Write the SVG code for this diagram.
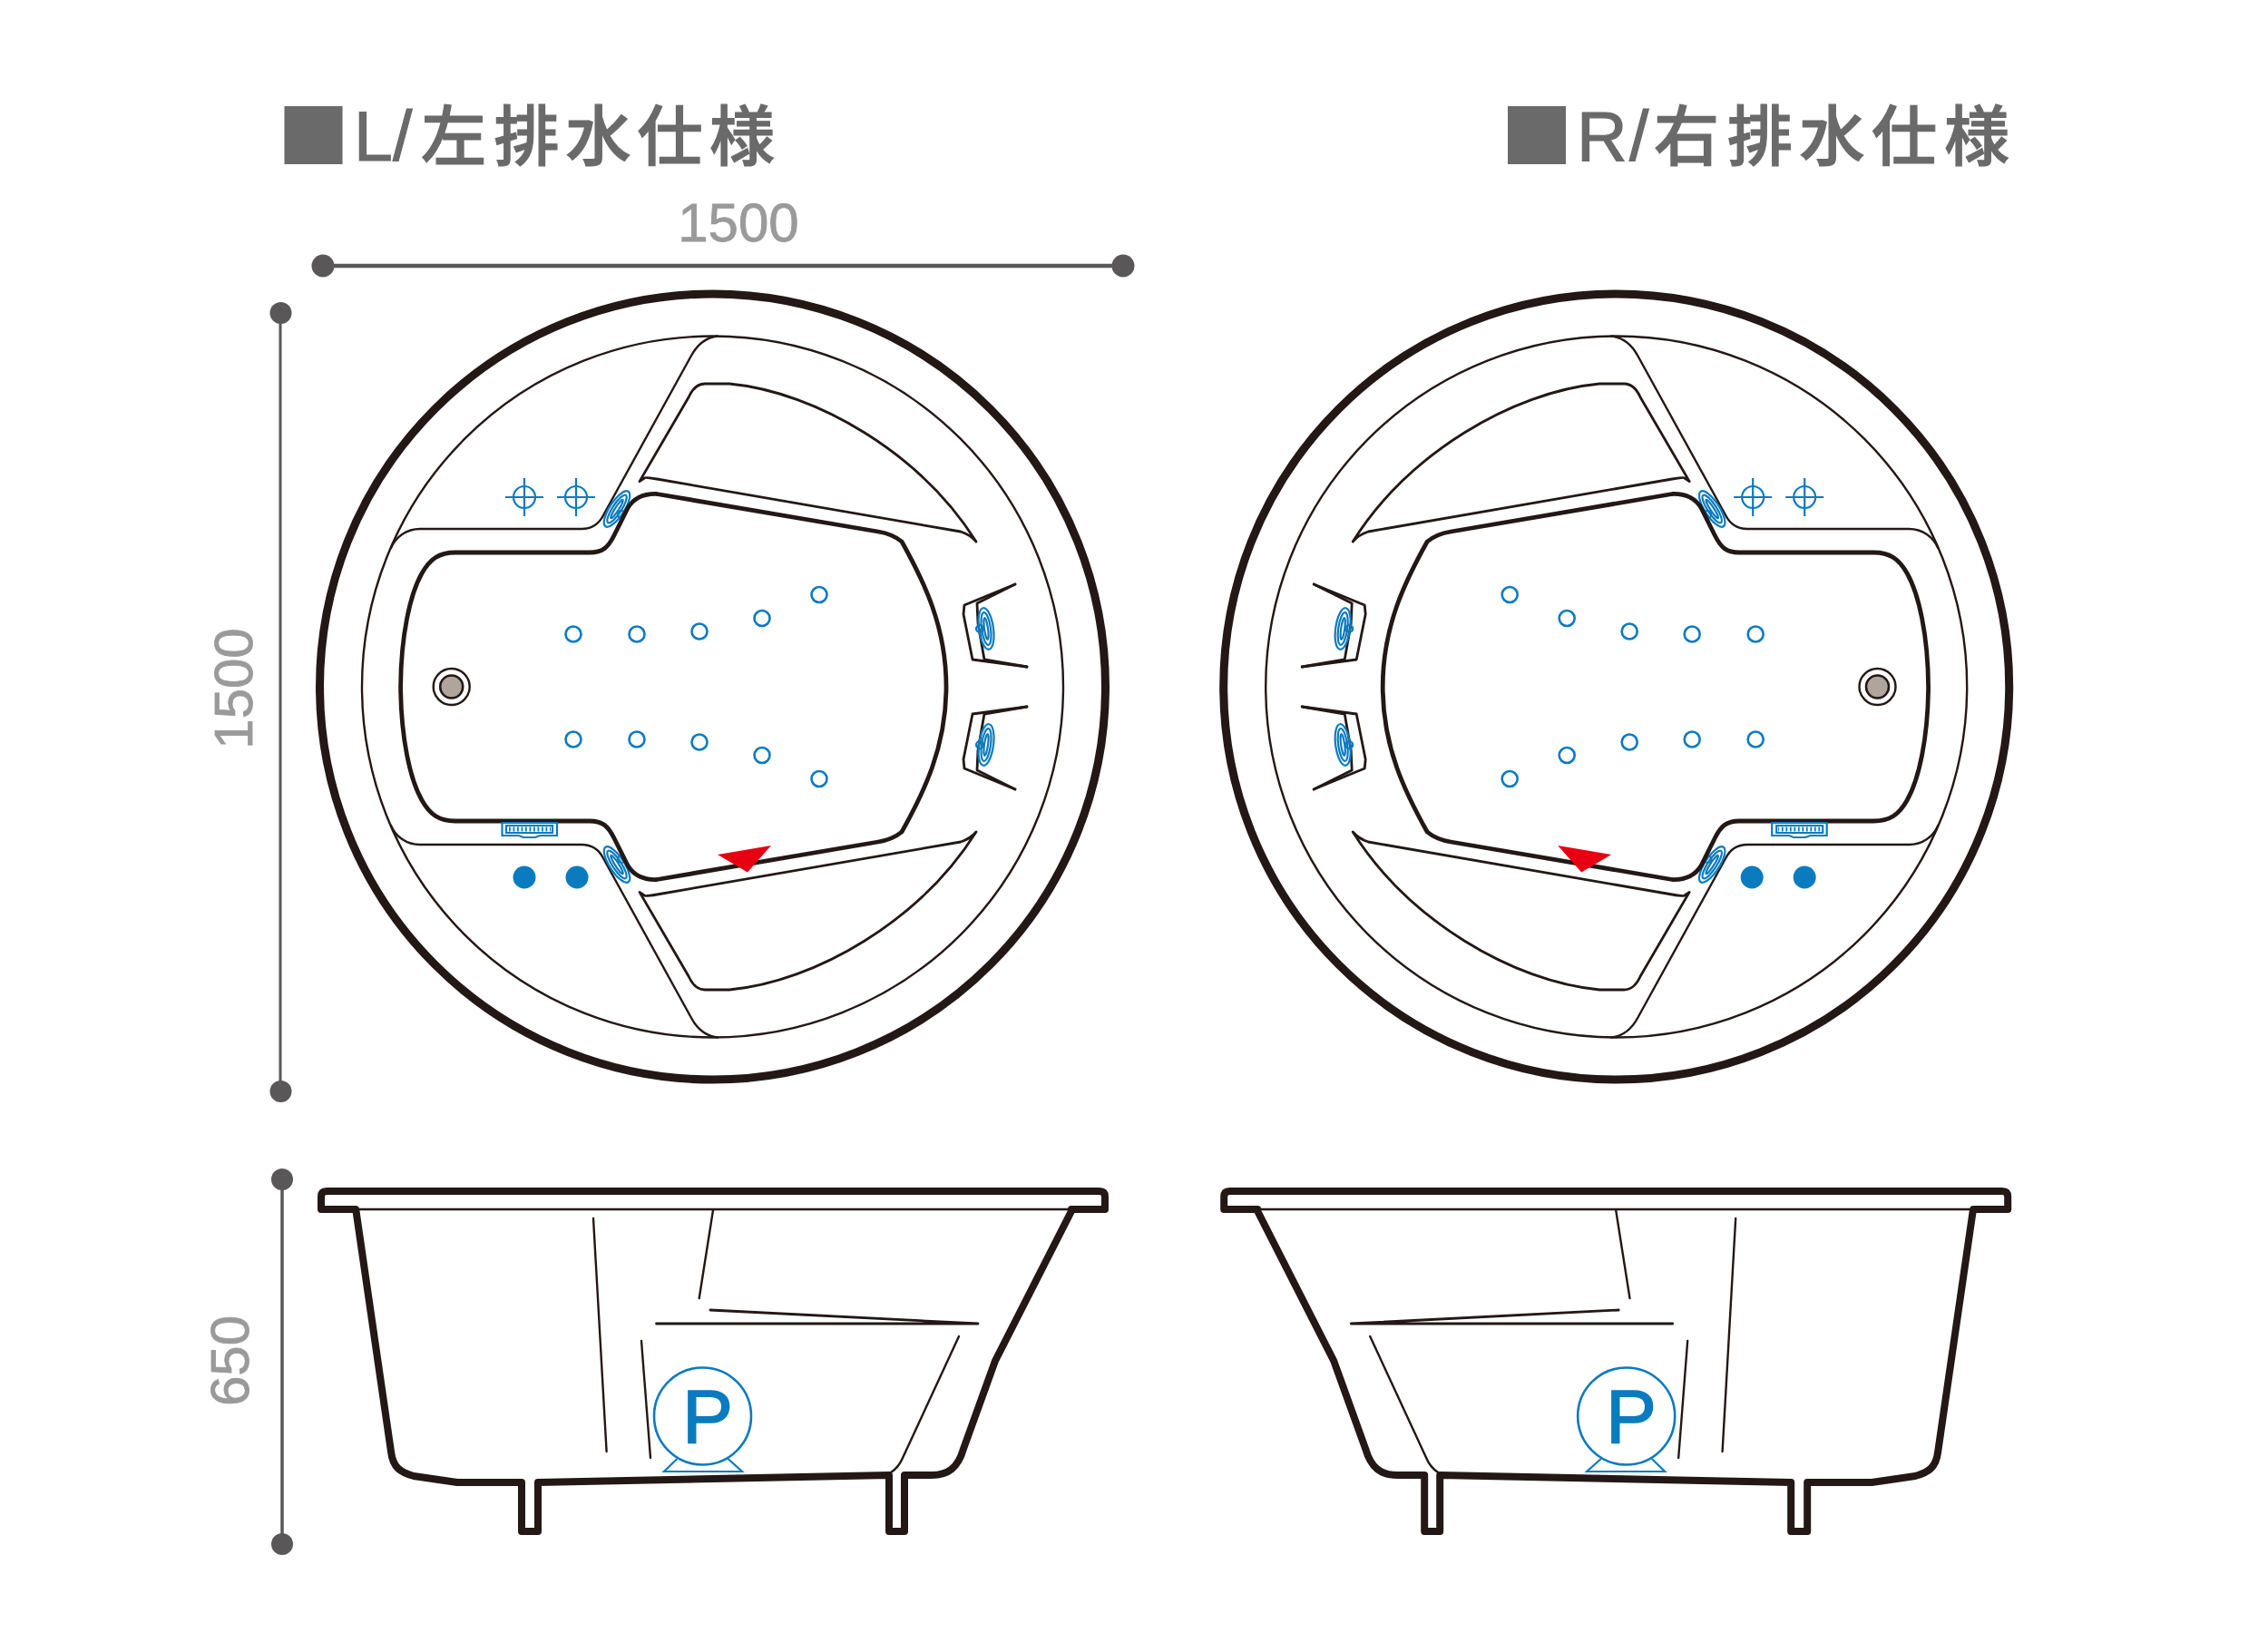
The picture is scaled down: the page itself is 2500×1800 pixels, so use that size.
<svg xmlns="http://www.w3.org/2000/svg" xmlns:xlink="http://www.w3.org/1999/xlink" width="2500" height="1800" viewBox="0 0 2500 1800">
<style>
.bg{fill:#fff}
.k{fill:none;stroke:#231815;stroke-linejoin:round;stroke-linecap:round}
.t2{stroke-width:2.4}
.t3{stroke-width:2.8}
.b{fill:none;stroke:#0b7bbf;stroke-width:2.2}
.j{fill:#fff;stroke:#0b7bbf;stroke-width:2.6}
.dim{stroke:#595757;fill:none}
.dot{fill:#595757}
.title{font-family:"Liberation Sans","Noto Sans CJK JP",sans-serif;font-size:77px;fill:#6a6a6a;stroke:#6a6a6a;stroke-width:1.2}
.cjk{font-family:"Noto Sans CJK JP","Liberation Sans",sans-serif;font-size:72px;font-weight:500}
.sq{font-family:"Noto Sans CJK JP",sans-serif;font-size:80px;stroke:none}
.num{font-family:"Liberation Sans",sans-serif;font-size:60px;fill:#9a9a9a;stroke:#9a9a9a;stroke-width:.8}
.p{font-family:"Liberation Sans",sans-serif;font-size:84px;fill:#0b7bbf;stroke:#0b7bbf;stroke-width:1.5}
</style>
<defs>
<g id="jet">
<ellipse rx="8" ry="23"/><ellipse rx="5" ry="18"/><ellipse rx="2" ry="12"/>
</g>
<g id="half">
<path class="k t2" d="M431,604C436,592 448,583 463,583L641,583C652,583 660,578 665,568L762,392C768,381 778,372 791,370.5"/>
<path class="k t3" d="M705,530.6L759,438C763,429 768,423 777,423L804,423C900,432 1015,500 1076,597C1070,590 1065,588 1059,586L724,528C718,527 712,526 711,526.6Z"/>
<path class="k t3" d="M1119,644L1063,667L1062,677L1072,727L1132,735"/>
<path class="k t3" d="M1119,644L1077,665L1078,687L1085,727L1132,735"/>
<use href="#jet" class="b" transform="translate(1087,693) rotate(-8)"/>
<circle class="b" cx="1080" cy="693" r="4"/>
<use href="#jet" class="b" transform="translate(680,561) rotate(33)"/>
<circle class="b" cx="685" cy="567" r="4"/>
</g>
<g id="plan">
<circle class="k" cx="785.5" cy="757" r="433" stroke-width="9"/>
<circle class="k t2" cx="785.5" cy="757" r="386.5"/>
<use href="#half"/>
<use href="#half" transform="translate(0,1514) scale(1,-1)"/>
<path class="k" stroke-width="4.8" d="M441.6,757C442,700 452,655 465,632C474,616 484,609 502,609L650,609C664,609 670,604 677,590L692,560C698,550 708,544 724,544.5L968,586C980,588 988,592 994,597C1018,640 1043,690 1043,757C1043,824 1018,874 994,917C988,922 980,926 968,928L724,969.5C708,970 698,964 692,954L677,924C670,910 664,905 650,905L502,905C484,905 474,898 465,882C452,859 442,814 441.6,757Z"/>
<g class="j">
<circle cx="632" cy="699" r="8.5"/><circle cx="702" cy="699" r="8.5"/><circle cx="771" cy="696" r="8.5"/><circle cx="840" cy="681.5" r="8.5"/><circle cx="903" cy="655.5" r="8.5"/>
<circle cx="632" cy="815" r="8.5"/><circle cx="702" cy="815" r="8.5"/><circle cx="771" cy="818" r="8.5"/><circle cx="840" cy="832.5" r="8.5"/><circle cx="903" cy="858.5" r="8.5"/>
</g>
<circle class="k t2" cx="497.7" cy="757" r="20"/>
<circle cx="497.7" cy="757" r="12.5" fill="#b0a59d" stroke="#231815" stroke-width="2.6"/>
<g class="b">
<circle cx="578" cy="548" r="12"/><path d="M557,548H599M578,527V569"/>
<circle cx="635" cy="548" r="12"/><path d="M614,548H656M635,527V569"/>
<path d="M553.5,907H614V921H595L590,923H577L572,921H553.5Z"/>
<path d="M558,910H609V918H558Z"/>
<path d="M561,914H607" stroke-width="5" stroke-dasharray="1.8 2.7"/>
</g>
<circle cx="578" cy="967" r="12.5" fill="#0b7bbf"/>
<circle cx="636" cy="967" r="12.5" fill="#0b7bbf"/>
<path d="M791,942L850,932L824,961.5Z" fill="#e60012"/>
</g>
<g id="elev">
<path class="k" stroke-width="8" d="M392,1333L354,1333L354,1319Q354,1313 360,1313L1212,1313Q1218,1313 1218,1319L1218,1333L1181,1333"/>
<path class="k t2" d="M392,1333H1181"/>
<path class="k" stroke-width="8" d="M392.5,1335L431,1600C433,1618 442,1623 456,1627L504,1634L575,1634L575,1688L593,1688L593,1634L980,1626L980,1688L997,1688L997,1626L1027,1626C1045,1626 1056,1618 1062,1597L1097,1500L1181,1335"/>
<path class="k t2" d="M654,1343L668.6,1600M786,1334L770.7,1431M707,1478L717,1607"/>
<path class="k t2" d="M1057,1473L995,1607Q991,1617 982,1623"/>
<path class="k t3" d="M723.5,1459H1078L783,1444"/>
<circle cx="774.5" cy="1561" r="53.5" fill="none" stroke="#0b7bbf" stroke-width="2.6"/>
<path class="b" d="M746.4,1608L732,1622H818L802.5,1608"/>
</g>
</defs>
<rect class="bg" width="2500" height="1800"/>
<g id="title-left"><text class="title"><tspan class="sq" x="305.500" y="179">■</tspan><tspan x="390" y="177">L</tspan><tspan x="433">/</tspan><tspan class="cjk" x="464" y="176">左</tspan><tspan class="cjk" x="544.5" y="176">排</tspan><tspan class="cjk" x="623.5" y="176">水</tspan><tspan class="cjk" x="702.5" y="176">仕</tspan><tspan class="cjk" x="782" y="176">様</tspan></text></g>
<g id="title-right"><text class="title"><tspan class="sq" x="1654" y="179">■</tspan><tspan x="1738" y="177">R</tspan><tspan x="1796">/</tspan><tspan class="cjk" x="1823" y="176">右</tspan><tspan class="cjk" x="1904" y="176">排</tspan><tspan class="cjk" x="1983.5" y="176">水</tspan><tspan class="cjk" x="2063" y="176">仕</tspan><tspan class="cjk" x="2143" y="176">様</tspan></text></g>
<g id="dimensions">
<path class="dim" stroke-width="4.6" d="M356,293H1238"/>
<circle class="dot" cx="356" cy="293" r="12.5"/><circle class="dot" cx="1238" cy="293" r="12.5"/>
<path class="dim" stroke-width="3" d="M309,345V1203"/>
<circle class="dot" cx="309.500" cy="345" r="12"/><circle class="dot" cx="309.500" cy="1203" r="12"/>
<path class="dim" stroke-width="3.500" d="M311,1300V1702"/>
<circle class="dot" cx="311" cy="1300" r="12"/><circle class="dot" cx="311" cy="1702" r="12"/>
<text class="num" x="814" y="266" text-anchor="middle">1500</text>
<text class="num" transform="translate(278,759) rotate(-90)" text-anchor="middle">1500</text>
<text class="num" transform="translate(274,1500) rotate(-90)" text-anchor="middle">650</text>
</g>
<g id="plan-left"><use href="#plan"/></g>
<g id="plan-right"><use href="#plan" transform="translate(2567.2,0) scale(-1,1)"/></g>
<g id="elevation-left"><use href="#elev"/><text class="p" x="752" y="1590">P</text></g>
<g id="elevation-right"><use href="#elev" transform="translate(2567.2,0) scale(-1,1)"/><text class="p" x="1770" y="1590">P</text></g>
</svg>
